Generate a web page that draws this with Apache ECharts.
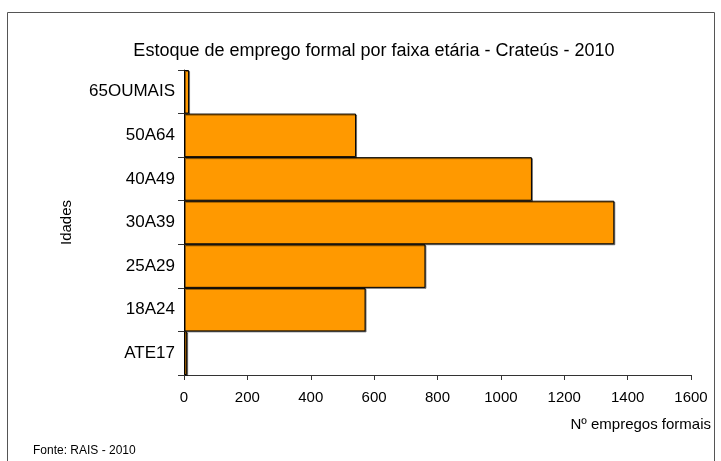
<!DOCTYPE html>
<html>
<head>
<meta charset="utf-8">
<script src="https://cdn.jsdelivr.net/npm/echarts@6/dist/echarts.min.js"></script>
<style>
html,body{margin:0;padding:0;background:#fff;}
#chart{width:721px;height:461px;}
</style>
</head>
<body>
<div id="chart"></div>
<script>
const titleText = 'Estoque de emprego formal por faixa etária - Crateús - 2010';
const categories = ['ATE17', '18A24', '25A29', '30A39', '40A49', '50A64', '65OUMAIS'];
const values = [10, 573, 762, 1358, 1098, 543, 16];
const xTicks = { min: 0, max: 1600, interval: 200 };
const xAxisName = 'Nº empregos formais';
const yAxisName = 'Idades';
const sourceText = 'Fonte: RAIS - 2010';

const chart = echarts.init(document.getElementById('chart'), null, { renderer: 'canvas' });
const font = 'Liberation Sans, Arial, sans-serif';
chart.setOption({
  animation: false,
  backgroundColor: '#fff',
  title: {
    text: titleText,
    left: 369, top: 37, textAlign: 'center',
    textStyle: { fontFamily: font, fontSize: 18, fontWeight: 'normal', color: '#000' }
  },
  grid: { left: 184, right: 30, top: 70, bottom: 86, containLabel: false },
  xAxis: {
    type: 'value',
    min: xTicks.min, max: xTicks.max, interval: xTicks.interval,
    name: xAxisName,
    nameLocation: 'end',
    nameGap: 20,
    nameTextStyle: { fontFamily: font, fontSize: 15, color: '#000', align: 'right', verticalAlign: 'top', padding: [42, 0, 0, 0] },
    axisLine: { show: true, lineStyle: { color: '#333', width: 1 } },
    axisTick: { show: true, length: 5, lineStyle: { color: '#333' } },
    axisLabel: { fontFamily: font, fontSize: 15, color: '#000', margin: 15, formatter: v => String(v) },
    splitLine: { show: false }
  },
  yAxis: {
    type: 'category',
    data: categories,
    name: yAxisName,
    nameLocation: 'middle',
    nameGap: 110,
    nameRotate: 90,
    nameTextStyle: { fontFamily: font, fontSize: 15, color: '#000' },
    axisLine: { show: true, lineStyle: { color: '#333', width: 1 } },
    axisTick: { show: true, length: 6, alignWithLabel: false, lineStyle: { color: '#333' } },
    axisLabel: { fontFamily: font, fontSize: 17, color: '#000', margin: 9 }
  },
  series: [{
    type: 'bar',
    data: values,
    barCategoryGap: '0%',
    itemStyle: {
      color: '#FF9900',
      borderColor: '#000',
      borderWidth: 1,
      shadowColor: 'rgba(0,0,0,0.45)',
      shadowOffsetX: 1,
      shadowOffsetY: 1,
      shadowBlur: 0
    }
  }],
  graphic: [
    {
      type: 'rect',
      shape: { x: 7.5, y: 12.5, width: 707, height: 460 },
      style: { fill: null, stroke: '#555', lineWidth: 1 },
      silent: true, z: -1
    },
    {
      type: 'text',
      left: 33, top: 445,
      style: { text: sourceText, font: '12px Liberation Sans, Arial, sans-serif', fill: '#000' }
    }
  ]
});
</script>
</body>
</html>
